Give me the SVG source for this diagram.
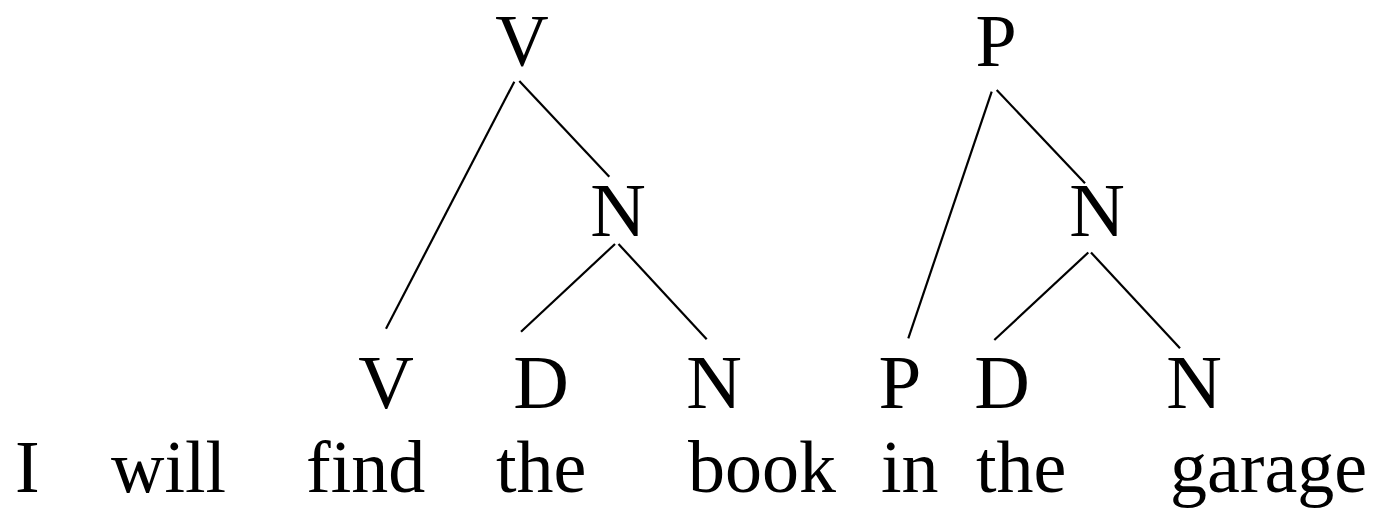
<svg xmlns="http://www.w3.org/2000/svg" width="1374" height="510" viewBox="0 0 1374 510">
<style>
text { font-family: "Liberation Serif", "Times New Roman", serif; font-size: 74px; fill: #000; }
.lab { text-anchor: middle; font-size: 77px; }
.top { font-size: 74px; }
.edge { stroke: #000; stroke-width: 2.2; fill: none; }
</style>
<rect width="1374" height="510" fill="#fff"/>
<g id="connectors">
<line class="edge" x1="514.3" y1="81.7" x2="386" y2="328.7"/>
<line class="edge" x1="519.3" y1="81" x2="609.3" y2="176.7"/>
<line class="edge" x1="615" y1="244" x2="521" y2="331.7"/>
<line class="edge" x1="618.5" y1="244" x2="706.7" y2="339.3"/>
<line class="edge" x1="991.7" y1="91.7" x2="908.3" y2="338.3"/>
<line class="edge" x1="996.7" y1="90" x2="1085" y2="183.3"/>
<line class="edge" x1="1088.3" y1="252.5" x2="994.3" y2="340"/>
<line class="edge" x1="1091" y1="252.5" x2="1180" y2="348.3"/>
</g>
<g id="node-V-top"><text class="lab top" x="522" y="66">V</text></g>
<g id="node-N-mid1"><text class="lab" x="618" y="236">N</text></g>
<g id="node-V-leaf"><text class="lab" x="386" y="408">V</text></g>
<g id="node-D-leaf1"><text class="lab" x="541" y="408">D</text></g>
<g id="node-N-leaf1"><text class="lab" x="714" y="408">N</text></g>
<g id="node-P-top"><text class="lab top" x="996" y="66">P</text></g>
<g id="node-N-mid2"><text class="lab" x="1097" y="236">N</text></g>
<g id="node-P-leaf"><text class="lab" x="900" y="408">P</text></g>
<g id="node-D-leaf2"><text class="lab" x="1002" y="408">D</text></g>
<g id="node-N-leaf2"><text class="lab" x="1194" y="408">N</text></g>
<g id="words">
<text x="15" y="492">I</text>
<text x="111" y="492">will</text>
<text x="306" y="492">find</text>
<text x="496" y="492">the</text>
<text x="688" y="492">book</text>
<text x="881" y="492">in</text>
<text x="976" y="492">the</text>
<text x="1170" y="492">garage</text>
</g>
</svg>
